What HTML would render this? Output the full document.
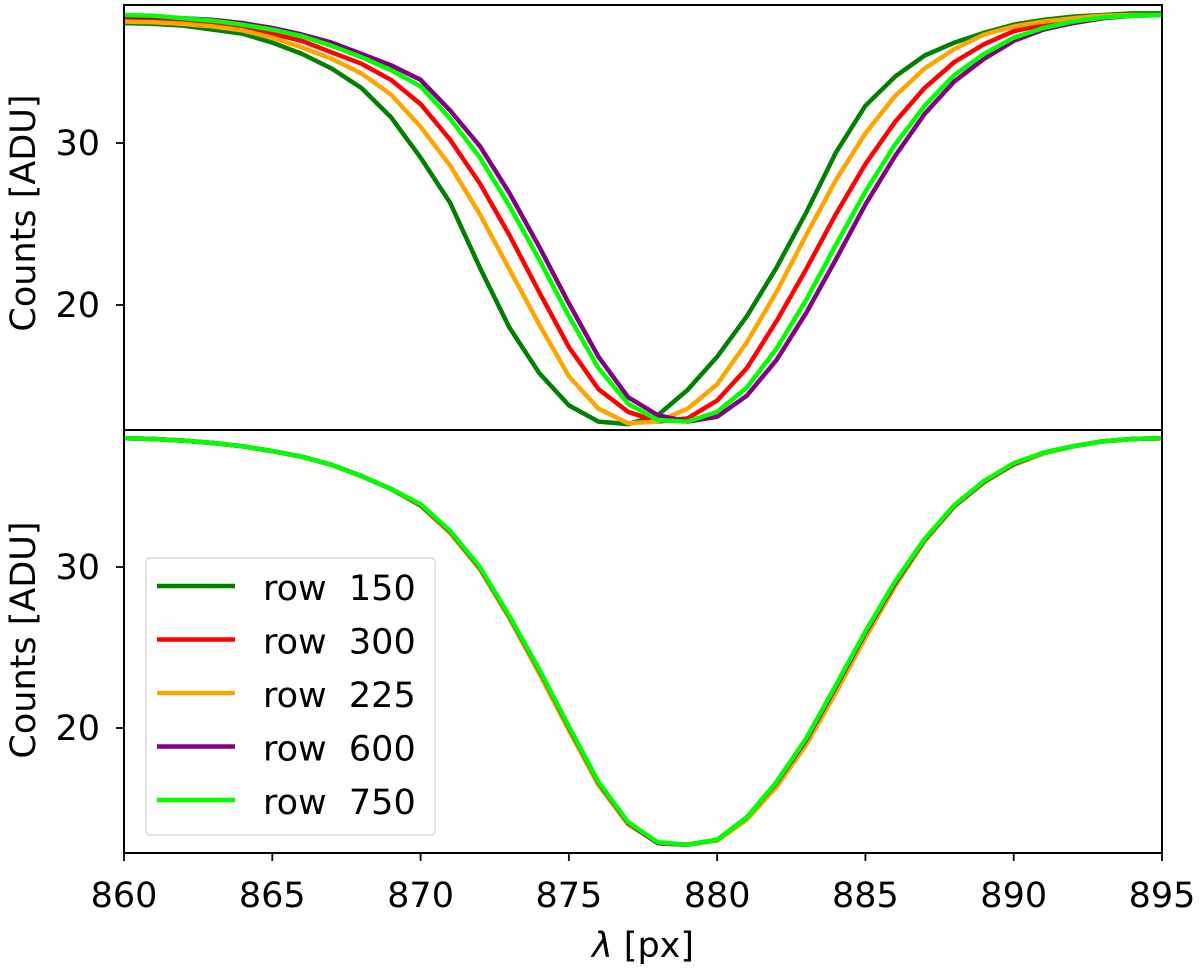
<!DOCTYPE html>
<html><head><meta charset="utf-8"><style>
body{margin:0;background:#fff;}
svg text{font-family:"DejaVu Sans","Liberation Sans",sans-serif;fill:#000;}
</style></head><body>
<svg id="chart" width="1200" height="970" xmlns="http://www.w3.org/2000/svg"></svg>
<script>
const xValues=[860,861,862,863,864,865,866,867,868,869,870,871,872,873,874,875,876,877,878,879,880,881,882,883,884,885,886,887,888,889,890,891,892,893,894,895];
const xTicks=[860,865,870,875,880,885,890,895];
const yTicks=[20,30];
const seriesNames=["row  150","row  300","row  225","row  600","row  750"];
const seriesColors=["#008000","#ff0000","#ffa500","#800080","#00ff00"];
const top150=[37.4,37.35,37.25,37.0,36.75,36.2,35.5,34.6,33.4,31.6,29.1,26.3,22.3,18.6,15.8,13.8,12.8,12.65,13.2,14.75,16.8,19.3,22.3,25.7,29.4,32.3,34.1,35.4,36.2,36.8,37.3,37.6,37.8,37.9,38.0,38.0];
const top300=[37.6,37.55,37.45,37.3,37.05,36.75,36.3,35.6,34.9,33.9,32.4,30.2,27.5,24.3,20.8,17.4,14.8,13.4,12.8,13.0,14.1,16.1,19.0,22.2,25.6,28.7,31.3,33.4,35.0,36.1,36.9,37.3,37.6,37.8,37.9,37.9];
const top225=[37.5,37.45,37.35,37.2,36.95,36.5,35.9,35.2,34.3,33.0,31.0,28.6,25.6,22.2,18.8,15.6,13.6,12.7,12.8,13.6,15.1,17.7,20.8,24.3,27.7,30.6,32.9,34.6,35.8,36.7,37.2,37.5,37.7,37.85,37.9,37.9];
const top600=[37.8,37.8,37.7,37.6,37.4,37.1,36.7,36.2,35.5,34.8,33.9,32.0,29.8,26.9,23.6,20.1,16.8,14.3,13.2,12.8,13.1,14.4,16.6,19.5,22.8,26.2,29.2,31.8,33.8,35.2,36.3,37.0,37.4,37.7,37.85,37.9];
const top750=[37.9,37.85,37.7,37.55,37.3,37.0,36.6,36.0,35.3,34.5,33.5,31.5,29.1,26.1,22.8,19.3,16.1,13.9,12.9,12.8,13.4,14.9,17.3,20.3,23.7,27.0,29.9,32.3,34.2,35.5,36.5,37.1,37.5,37.75,37.85,37.9];
const bot150=[38.0,37.95,37.85,37.7,37.5,37.2,36.85,36.35,35.65,34.85,33.85,32.2,29.95,26.9,23.6,20.05,16.6,14.1,12.85,12.75,13.05,14.4,16.6,19.25,22.55,25.9,29.0,31.7,33.8,35.3,36.4,37.1,37.5,37.8,37.95,38.0];
const bot300=[38.0,37.95,37.85,37.7,37.5,37.2,36.85,36.35,35.65,34.85,33.8,32.15,29.9,26.85,23.5,19.95,16.5,14.05,12.85,12.75,13.05,14.4,16.5,19.1,22.4,25.8,28.95,31.7,33.8,35.3,36.35,37.05,37.5,37.8,37.95,38.0];
const bot225=[38.0,37.95,37.85,37.7,37.5,37.2,36.85,36.35,35.65,34.85,33.8,32.1,29.85,26.8,23.4,19.85,16.45,14.0,12.85,12.75,13.0,14.3,16.35,18.95,22.2,25.6,28.8,31.6,33.75,35.25,36.35,37.05,37.5,37.8,37.95,38.0];
const bot600=[38.0,37.95,37.85,37.7,37.5,37.2,36.85,36.35,35.65,34.85,33.85,32.2,29.95,26.9,23.6,20.05,16.6,14.1,12.85,12.75,13.05,14.45,16.6,19.25,22.55,25.9,29.0,31.7,33.8,35.3,36.4,37.1,37.5,37.8,37.95,38.0];
const bot750=[38.0,37.95,37.85,37.7,37.5,37.2,36.85,36.35,35.65,34.85,33.9,32.25,30.0,26.95,23.65,20.1,16.65,14.15,12.9,12.75,13.05,14.45,16.65,19.35,22.65,26.0,29.1,31.75,33.85,35.35,36.45,37.1,37.5,37.8,37.95,38.0];
const topSeries=[top150,top300,top225,top600,top750];
const botSeries=[bot150,bot300,bot225,bot600,bot750];

const NS="http://www.w3.org/2000/svg";
const svg=document.getElementById('chart');
function mk(t,a,p){const e=document.createElementNS(NS,t);for(const k in a)e.setAttribute(k,a[k]);(p||svg).appendChild(e);return e;}
const X0=124,X1=1162;
const FS=35;
function xs(v){return X0+(v-860)/(895-860)*(X1-X0);}
function ysTop(v){return 143+(30-v)*16.2;}
function ysBot(v){return 567+(30-v)*16.1;}
const panels=[{y0:5,y1:430,ys:ysTop,data:topSeries,name:'top-panel',cy:213},{y0:430,y1:853,ys:ysBot,data:botSeries,name:'bottom-panel',cy:640}];
panels.forEach((p,pi)=>{
  const g=mk('g',{});
  
  
  const cid='clip'+pi;
  const cp=mk('clipPath',{id:cid},g);
  mk('rect',{x:X0,y:p.y0,width:X1-X0,height:p.y1-p.y0},cp);
  p.data.forEach((arr,si)=>{
    const pts=arr.map((v,i)=>xs(xValues[i]).toFixed(1)+','+p.ys(v).toFixed(1)).join(' ');
    const pl=mk('polyline',{points:pts,fill:'none',stroke:seriesColors[si],'stroke-width':4.5,'stroke-linejoin':'round','clip-path':'url(#'+cid+')'},g);
    
    
  });
  const fr=mk('rect',{x:X0,y:p.y0,width:X1-X0,height:p.y1-p.y0,fill:'none',stroke:'#000','stroke-width':2},g);
  
  
  yTicks.forEach(t=>{
    const y=p.ys(t);
    mk('line',{x1:X0-8,x2:X0,y1:y,y2:y,stroke:'#000','stroke-width':1.8},g);
    const tx=mk('text',{x:X0-24,y:y+12,'text-anchor':'end','font-size':FS},g);
    tx.textContent=t;
    
    
  });
  const yl=mk('text',{x:0,y:0,'text-anchor':'middle','font-size':FS,transform:'translate(35,'+p.cy+') rotate(-90)'},g);
  yl.textContent='Counts [ADU]';
  
  
});
xTicks.forEach(t=>{
  const x=xs(t);
  mk('line',{x1:x,x2:x,y1:853,y2:861,stroke:'#000','stroke-width':1.8});
  const tx=mk('text',{x:x,y:907,'text-anchor':'middle','font-size':FS});
  tx.textContent=t;
  
  
});
const xl=mk('text',{x:643,y:957,'text-anchor':'middle','font-size':FS});
xl.innerHTML='<tspan font-style="italic">λ</tspan> [px]';


const lg=mk('g',{});


mk('rect',{x:146,y:558,width:289,height:277,rx:4,fill:'#fff','fill-opacity':0.8,stroke:'#d8d8d8','stroke-width':1.5},lg);
seriesNames.forEach((n,i)=>{
  const y=586+i*53.5;
  const e=mk('g',{},lg);
  
  
  mk('line',{x1:157,x2:235,y1:y,y2:y,stroke:seriesColors[i],'stroke-width':4.5},e);
  const t=mk('text',{x:263,y:y+14,'font-size':FS},e);
  t.setAttribute('style','white-space:pre');
  t.textContent=n;
});
</script>
</body></html>
